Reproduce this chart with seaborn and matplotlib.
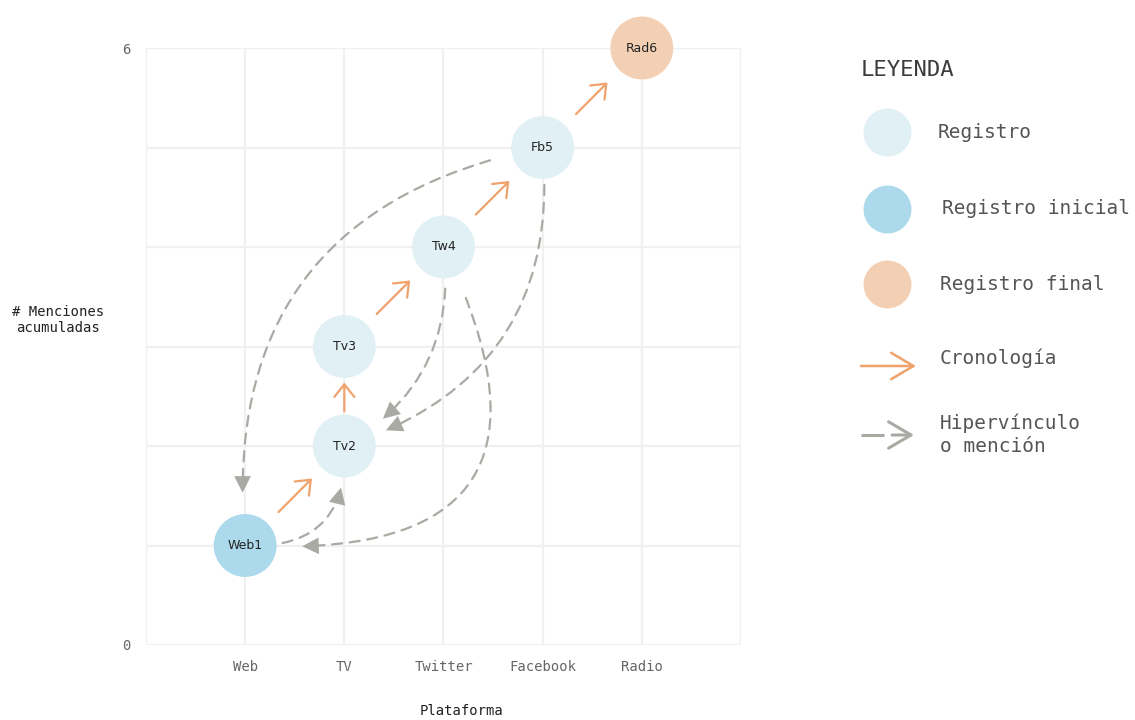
import matplotlib
matplotlib.use("Agg")
import matplotlib.pyplot as plt
import seaborn as sns
import pandas as pd
from matplotlib.patches import FancyArrowPatch

# ---------------- data ----------------
platforms = ["Web", "TV", "Twitter", "Facebook", "Radio"]
node_names = ["Web1", "Tv2", "Tv3", "Tw4", "Fb5", "Rad6"]
node_platform = ["Web", "TV", "TV", "Twitter", "Facebook", "Radio"]
node_mentions = [1, 2, 3, 4, 5, 6]
node_type = ["Registro inicial", "Registro", "Registro", "Registro", "Registro", "Registro final"]
chronology = [("Web1", "Tv2"), ("Tv2", "Tv3"), ("Tv3", "Tw4"), ("Tw4", "Fb5"), ("Fb5", "Rad6")]
mentions = [("Fb5", "Web1"), ("Web1", "Tv2"), ("Tw4", "Tv2"), ("Fb5", "Tv2"), ("Tw4", "Web1")]
y_tick_labels = ["0", "", "", "", "", "", "6"]
legend_nodes = ["Registro", "Registro inicial", "Registro final"]
legend_arrows = ["Cronología", "Hipervínculo\no mención"]

# ---------------- style ----------------
MONO = ["DejaVu Sans Mono", "DejaVu Sans"]
C_REG, C_INI, C_FIN = "#e0f0f5", "#acdaec", "#f3d0b4"
C_ORANGE = "#f0a26c"
C_GRAY = "#aaaaa4"
palette = {"Registro": C_REG, "Registro inicial": C_INI, "Registro final": C_FIN}
chron_shrink = [(34, 33), (25, 26), (33, 34), (33, 34), (34, 35)]
mention_rad = [0.45, 0.55, -0.33, -0.4, -0.85]
mention_shrink = [(39, 38), (27, 30), (30, 34), (27, 32), (40, 41)]

sns.set_theme(style="white")
plt.rcParams["font.family"] = MONO

W, H, DPI = 1135, 720, 100
fig = plt.figure(figsize=(W / DPI, H / DPI), dpi=DPI)
fig.patch.set_facecolor("white")
ax = fig.add_axes([146 / W, 1 - 645 / H, (741 - 146) / W, (645 - 48) / H])

df = pd.DataFrame({
    "name": node_names,
    "x": [platforms.index(p) + 1 for p in node_platform],
    "y": node_mentions,
    "tipo": node_type,
})
pos = {r.name: (r.x, r.y) for r in df.itertuples()}

ax.set_xlim(0, 6)
ax.set_ylim(0, 6)
ax.set_xticks(range(0, 7))
ax.set_xticklabels([""] + platforms + [""])
ax.set_yticks(range(0, 7))
ax.set_yticklabels(y_tick_labels)
ax.grid(True, color="#f0f0f0", linewidth=1.6)
ax.set_axisbelow(True)
for s in ax.spines.values():
    s.set_visible(False)
ax.tick_params(axis="both", length=0, labelsize=10, labelcolor="#666666")
ax.tick_params(axis="x", pad=11)
ax.tick_params(axis="y", pad=11)

# mention (hyperlink) edges: dashed shaft + solid filled head
for (a, b), rad, (sa, sb) in zip(mentions, mention_rad, mention_shrink):
    cs = f"arc3,rad={rad}"
    shaft = FancyArrowPatch(pos[a], pos[b], connectionstyle=cs, arrowstyle="-",
                            shrinkA=sa, shrinkB=sb + 5, color=C_GRAY,
                            linewidth=1.6, linestyle=(0, (4.6, 3.4)),
                            zorder=2, clip_on=False)
    ax.add_patch(shaft)
    head = FancyArrowPatch(pos[a], pos[b], connectionstyle=cs,
                           arrowstyle="-|>,head_length=1.0,head_width=0.5",
                           mutation_scale=12, shrinkA=sa, shrinkB=sb,
                           facecolor=C_GRAY, edgecolor="none", linewidth=0,
                           zorder=2, clip_on=False)
    ax.add_patch(head)

# chronology edges
for (a, b), (sa, sb) in zip(chronology, chron_shrink):
    p = FancyArrowPatch(pos[a], pos[b],
                        arrowstyle="->,head_length=0.45,head_width=0.36",
                        mutation_scale=20, shrinkA=sa, shrinkB=sb,
                        color=C_ORANGE, linewidth=1.6, zorder=2, clip_on=False)
    ax.add_patch(p)

# nodes
sns.scatterplot(data=df, x="x", y="y", hue="tipo", palette=palette, s=2050,
                linewidth=0, legend=False, ax=ax, zorder=3, clip_on=False)
ax.set_xlabel("")
ax.set_ylabel("")
for r in df.itertuples():
    ax.text(r.x, r.y, r.name, ha="center", va="center", fontsize=9,
            family=["DejaVu Sans"], color="#222222", zorder=4)

# axis titles
fig.text(461 / W, 1 - 711 / H, "Plataforma", ha="center", va="center",
         fontsize=10, color="#222222")
fig.text(58 / W, 1 - 320 / H, "# Menciones\nacumuladas", ha="center", va="center",
         fontsize=10, color="#222222", linespacing=1.1)

# ---------------- legend (overlay in pixel coordinates) ----------------
lax = fig.add_axes([0, 0, 1, 1], zorder=5)
lax.set_xlim(0, W)
lax.set_ylim(H, 0)
lax.axis("off")
lax.patch.set_alpha(0)

lax.text(861, 70, "LEYENDA", ha="left", va="center", fontsize=16, color="#3c3c3c")
leg_y = [132, 209, 284]
leg_tx = [938, 942, 940]
for lab, yy, tx in zip(legend_nodes, leg_y, leg_tx):
    lax.scatter([887], [yy], s=1190, color=palette[lab], linewidth=0)
    lax.text(tx, yy, lab, ha="left", va="center", fontsize=14, color="#555555")

lax.add_patch(FancyArrowPatch((861, 366), (916, 366),
                              arrowstyle="->,head_length=0.85,head_width=0.5",
                              mutation_scale=19, shrinkA=0, shrinkB=0,
                              color=C_ORANGE, linewidth=1.8))
lax.text(940, 358, legend_arrows[0], ha="left", va="center", fontsize=14, color="#555555")

lax.plot([861, 884], [435, 435], color=C_GRAY, linewidth=2.2, solid_capstyle="butt")
lax.add_patch(FancyArrowPatch((892, 435), (914, 435),
                              arrowstyle="->,head_length=0.85,head_width=0.5",
                              mutation_scale=19, shrinkA=0, shrinkB=0,
                              color=C_GRAY, linewidth=2.2))
lax.text(940, 435, legend_arrows[1], ha="left", va="center", fontsize=14,
         color="#555555", linespacing=1.25)

fig.savefig("out.png", dpi=DPI, facecolor="white")
